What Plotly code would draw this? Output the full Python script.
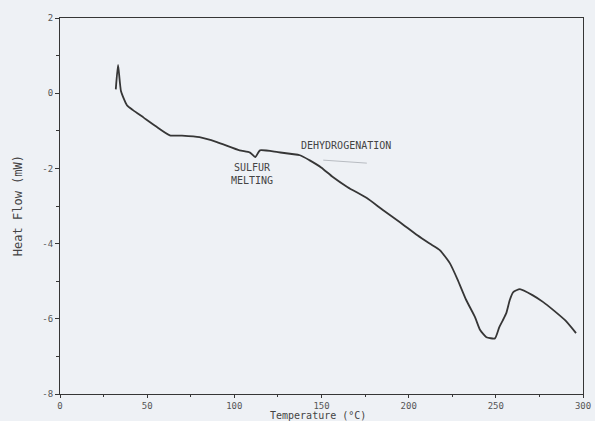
import plotly.graph_objects as go

# DSC trace: temperature (°C) vs heat flow (mW)
temperature = [32.0, 33.3, 35.0, 38.4, 41.9, 48.0, 55.0, 63.0, 70.0, 80.0, 90.0, 103.0,
               109.0, 112.0, 114.7, 125.0, 137.6, 143.0, 150.0, 156.5, 165.0, 176.0,
               185.0, 195.0, 205.0, 212.0, 218.0, 223.6, 228.0, 233.0, 238.0, 241.0,
               244.6, 249.5, 252.0, 254.0, 256.0, 258.0, 260.0, 263.8, 271.0, 277.0,
               283.0, 290.0, 296.0]
heat_flow = [0.10, 0.75, 0.05, -0.32, -0.45, -0.65, -0.88, -1.12, -1.13, -1.17, -1.30, -1.52,
             -1.58, -1.70, -1.52, -1.57, -1.65, -1.78, -1.98, -2.23, -2.50, -2.79,
             -3.10, -3.43, -3.78, -4.00, -4.18, -4.52, -4.95, -5.50, -5.95, -6.30,
             -6.49, -6.52, -6.22, -6.04, -5.85, -5.50, -5.29, -5.21, -5.37, -5.55,
             -5.77, -6.05, -6.38]

x_ticks = [0, 50, 100, 150, 200, 250, 300]
y_ticks = [2, 0, -2, -4, -6, -8]

font_family = "DejaVu Sans Mono"
ink = "#363636"
paper = "#eef1f5"

fig = go.Figure()
fig.add_trace(go.Scatter(
    x=temperature, y=heat_flow, mode="lines",
    line=dict(color=ink, width=1.8, shape="spline", smoothing=0.5),
    hoverinfo="skip", showlegend=False,
))

# faint leader under the dehydrogenation label
fig.add_trace(go.Scatter(
    x=[151, 176], y=[-1.78, -1.86], mode="lines",
    line=dict(color="#b8bcc2", width=1), hoverinfo="skip", showlegend=False,
))

axis_common = dict(
    showline=True, linecolor=ink, linewidth=1.2, mirror=True,
    showgrid=False, zeroline=False, automargin=False,
    ticks="outside", tickcolor=ink, tickwidth=1,
    tickfont=dict(family=font_family, size=9, color="#555"),
)

fig.update_xaxes(range=[0, 300], tickvals=x_ticks, ticktext=[str(v) for v in x_ticks],
                 ticklen=3, ticklabelstandoff=0,
                 minor=dict(dtick=25, ticks="outside", ticklen=2, tickcolor=ink),
                 **axis_common)
fig.update_yaxes(range=[-8, 2], tickvals=y_ticks,
                 ticktext=["2", "0", "-2", "-4", "-6", "-8"],
                 ticklen=4,
                 minor=dict(dtick=1, ticks="outside", ticklen=3, tickcolor=ink),
                 **axis_common)

fig.add_annotation(x=110, y=-2.14, text="SULFUR<br>MELTING", showarrow=False,
                   font=dict(family=font_family, size=10, color="#444"),
                   xanchor="center", yanchor="middle", align="center")
fig.add_annotation(x=164, y=-1.38, text="DEHYDROGENATION", showarrow=False,
                   font=dict(family=font_family, size=10, color="#444"),
                   xanchor="center", yanchor="middle")

# x-axis title, tucked under the tick labels
fig.add_annotation(x=148, y=-0.057, xref="x", yref="paper", text="Temperature (°C)",
                   showarrow=False, yanchor="middle", borderpad=0,
                   font=dict(family=font_family, size=10, color="#444"))
fig.add_annotation(x=-0.08, y=-3.0, xref="paper", yref="y", text="Heat Flow (mW)",
                   showarrow=False, textangle=-90, xanchor="center", borderpad=0,
                   font=dict(family=font_family, size=12, color="#444"))

fig.update_layout(
    width=595, height=421,
    margin=dict(l=60, r=12, t=18, b=27),
    paper_bgcolor=paper, plot_bgcolor=paper,
)

fig.write_html("out.html")
